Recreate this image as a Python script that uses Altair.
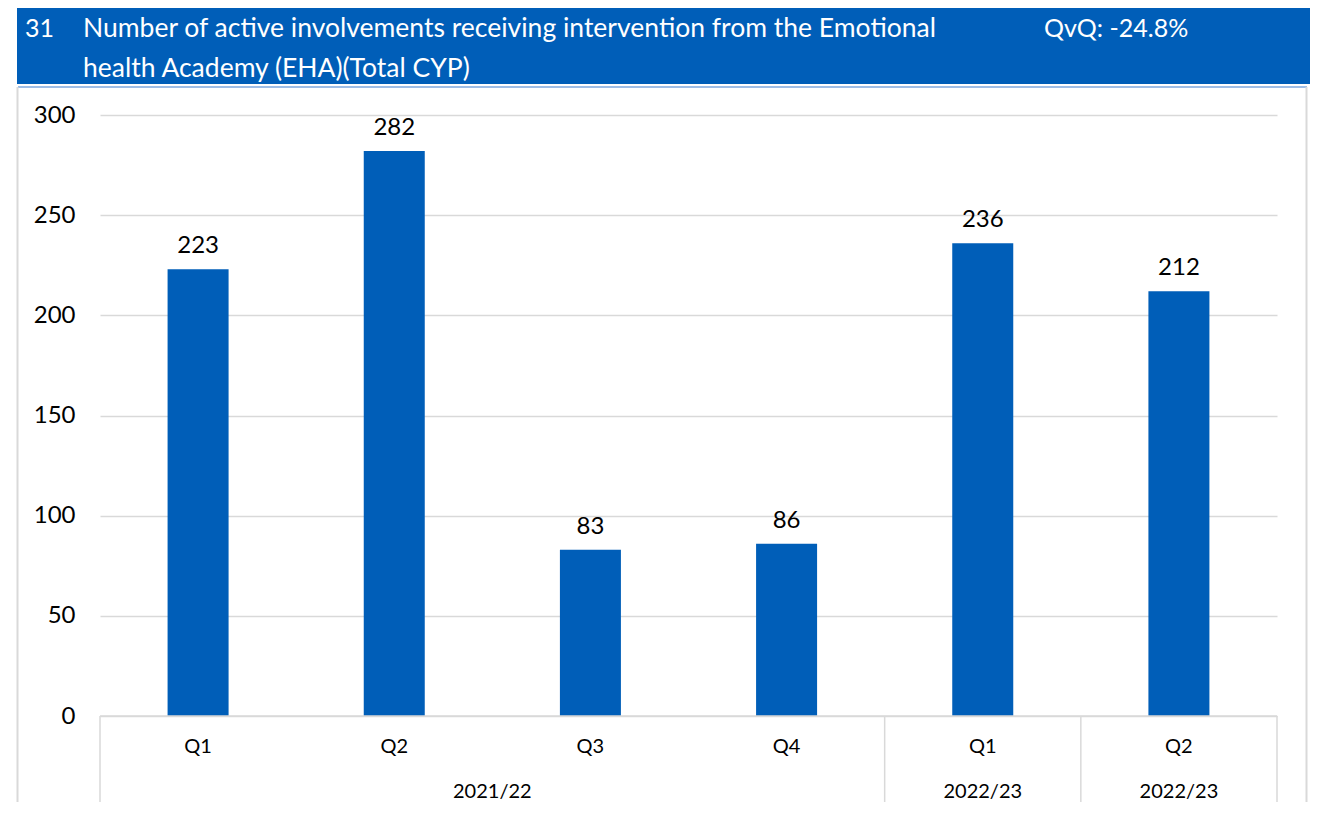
import altair as alt
import pandas as pd

# ---- data ----
years = ["2021/22", "2021/22", "2021/22", "2021/22", "2022/23", "2022/23"]
quarters = ["Q1", "Q2", "Q3", "Q4", "Q1", "Q2"]
values = [223, 282, 83, 86, 236, 212]
y_ticks = [0, 50, 100, 150, 200, 250, 300]
chart_number = "31"
title_lines = ["Number of active involvements receiving intervention from the Emotional",
               "health Academy (EHA)(Total CYP)"]
qvq_text = "QvQ: -24.8%"

cats = [f"{y} {q}" for y, q in zip(years, quarters)]
df = pd.DataFrame({"cat": cats, "year": years, "quarter": quarters, "value": values})

W, H = 1177, 601
BLUE = "#005EB8"
FONT = "Lato"

xscale = alt.Scale(domain=cats, paddingInner=0, paddingOuter=0)
yscale = alt.Scale(domain=[0, 300], nice=False)

base = alt.Chart(df)

bars = base.mark_bar(width=alt.RelativeBandSize(0.311), color=BLUE).encode(
    x=alt.X("cat:N", scale=xscale, axis=None),
    y=alt.Y("value:Q", scale=yscale,
            axis=alt.Axis(values=y_ticks, title=None, domain=False, ticks=False,
                          labelFontSize=24, labelColor="#000000", labelFont=FONT,
                          labelPadding=25, gridColor="#d9d9d9", gridWidth=1.5)),
)

labels = base.mark_text(fontSize=24, font=FONT, color="#000000", baseline="alphabetic", dy=-16).encode(
    x=alt.X("cat:N", scale=xscale),
    y=alt.Y("value:Q", scale=yscale),
    text="value:Q",
)

qlabels = base.mark_text(fontSize=20, font=FONT, color="#000000", baseline="middle").encode(
    x=alt.X("cat:N", scale=xscale),
    y=alt.value(H + 31),
    text="quarter:N",
)

grp1 = pd.DataFrame({"cat": [cats[2]], "year": [years[0]]})
grp2 = pd.DataFrame({"cat": cats[4:], "year": years[4:]})
ylab1 = alt.Chart(grp1).mark_text(fontSize=20, font=FONT, color="#000000", baseline="middle").encode(
    x=alt.X("cat:N", scale=xscale, bandPosition=0),
    y=alt.value(H + 76),
    text="year:N",
)
ylab2 = alt.Chart(grp2).mark_text(fontSize=20, font=FONT, color="#000000", baseline="middle").encode(
    x=alt.X("cat:N", scale=xscale, bandPosition=0.5),
    y=alt.value(H + 76),
    text="year:N",
)

div_left = pd.DataFrame({"cat": [cats[0], cats[4], cats[5]]})
dividers = alt.Chart(div_left).mark_rule(color="#d9d9d9", strokeWidth=1.5).encode(
    x=alt.X("cat:N", scale=xscale, bandPosition=0),
    y=alt.value(H),
    y2=alt.value(H + 120),
)
div_right = alt.Chart(pd.DataFrame({"cat": [cats[5]]})).mark_rule(color="#d9d9d9", strokeWidth=1.5).encode(
    x=alt.X("cat:N", scale=xscale, bandPosition=1),
    y=alt.value(H),
    y2=alt.value(H + 120),
)
baseline = alt.Chart(pd.DataFrame({"v": [0]})).mark_rule(color="#d9d9d9", strokeWidth=1.5).encode(
    y=alt.Y("v:Q", scale=yscale),
    x=alt.value(0),
    x2=alt.value(W),
)

one = pd.DataFrame({"a": [0]})
banner = alt.Chart(one).mark_rule(color=BLUE, strokeWidth=76, strokeCap="butt").encode(
    x=alt.value(-83), x2=alt.value(1210), y=alt.value(-69))
underline = alt.Chart(one).mark_rule(color="#9dbde6", strokeWidth=2).encode(
    x=alt.value(-82), x2=alt.value(1207), y=alt.value(-28))
frame_l = alt.Chart(one).mark_rule(color="#d9d9d9", strokeWidth=2).encode(
    x=alt.value(-82.5), y=alt.value(-28), y2=alt.value(H + 120))
frame_r = alt.Chart(one).mark_rule(color="#d9d9d9", strokeWidth=2).encode(
    x=alt.value(1206.5), y=alt.value(-28), y2=alt.value(H + 120))

def banner_text(txt, x, y, size=26):
    return alt.Chart(pd.DataFrame({"t": [txt]})).mark_text(
        fontSize=size, font=FONT, color="white", align="left", baseline="middle").encode(
        x=alt.value(x), y=alt.value(y), text="t:N")

num_txt = banner_text(chart_number, -75, -86, 25)
title1 = banner_text(title_lines[0], -17, -86, 26.5)
title2 = banner_text(title_lines[1], -17, -46, 26.5)
qvq_txt = banner_text(qvq_text, 944, -86, 25)

chart = alt.layer(
    bars, dividers, div_right, baseline, labels, qlabels, ylab1, ylab2,
    banner, underline, frame_l, frame_r, num_txt, title1, title2, qvq_txt,
).properties(
    width=W, height=H,
    autosize=alt.AutoSizeParams(type="none"),
    padding={"left": 92, "top": 107, "right": 40, "bottom": 86},
).configure_view(stroke=None)

chart.save("out.html", embed_options={"renderer": "svg", "actions": False})
